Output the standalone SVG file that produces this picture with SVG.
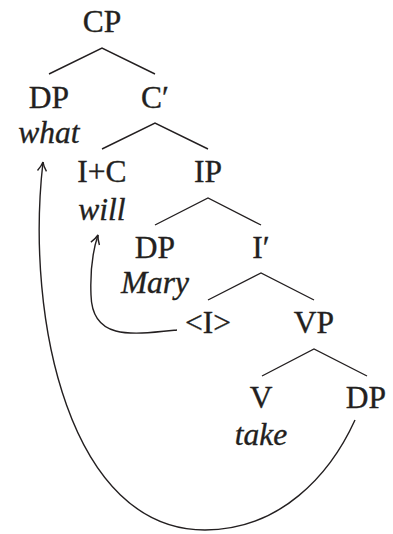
<svg xmlns="http://www.w3.org/2000/svg" width="393" height="534" viewBox="0 0 393 534">
<style>
text{font-family:"Liberation Serif","Times New Roman",serif;font-size:31.5px;fill:#231f20;stroke:#231f20;stroke-width:0.35;text-anchor:middle}
.i{font-style:italic}
.e{stroke:#231f20;stroke-width:1.4;fill:none}
</style>
<defs>
<marker id="ah" viewBox="-10 -6 12 12" markerWidth="12" markerHeight="12" refX="0" refY="0" orient="auto" markerUnits="userSpaceOnUse">
<path d="M-9,-4.5 Q-4,-1 0,0 Q-4,1 -9,4.5" fill="none" stroke="#231f20" stroke-width="1.4"/>
</marker>
</defs>
<rect width="393" height="534" fill="#fff"/>
<g id="connectors" class="e">
<path d="M49,74 L102,48 L155,74"/>
<path d="M102,149 L155,123 L208,149"/>
<path d="M155,225 L208,198 L261,225"/>
<path d="M208,300 L261,273 L314,300"/>
<path d="M262,376 L314,349 L367,376"/>
<path d="M177,330 C130,335 92,340 91,295 C90,270 93,250 98,235" marker-end="url(#ah)"/>
<path d="M355,420 C330,475 280,530 205,530 C70,530 25,320 43,162" marker-end="url(#ah)"/>
</g>
<g id="CP"><text x="102" y="32">CP</text></g>
<g id="DP1"><text x="49" y="108">DP</text><text class="i" x="49" y="143">what</text></g>
<g id="C1"><text x="155" y="108">C′</text></g>
<g id="IC"><text x="102" y="182">I+C</text><text class="i" x="102" y="220">will</text></g>
<g id="IP"><text x="208" y="182">IP</text></g>
<g id="DP2"><text x="155" y="258">DP</text><text class="i" x="155" y="293">Mary</text></g>
<g id="I1"><text x="261" y="258">I′</text></g>
<g id="Itrace"><text x="208" y="333">&lt;I&gt;</text></g>
<g id="VP"><text x="314" y="333">VP</text></g>
<g id="V"><text x="261" y="408">V</text><text class="i" x="261" y="445">take</text></g>
<g id="DP3"><text x="366" y="408">DP</text></g>
</svg>
